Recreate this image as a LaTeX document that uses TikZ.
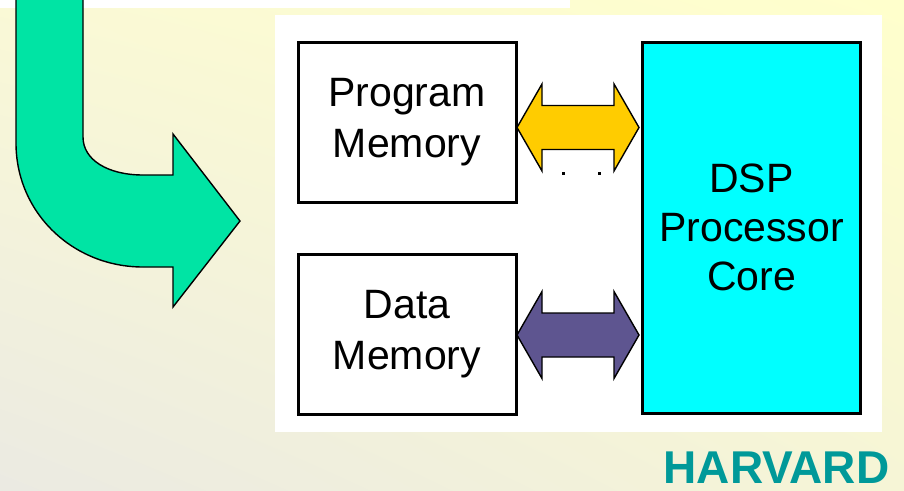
\documentclass[tikz,border=0pt]{standalone}
\usepackage{fontspec}
\usetikzlibrary{shadings}
\setmainfont{Liberation Sans}
\definecolor{bgtr}{HTML}{FFFFCC}
\definecolor{bgtl}{HTML}{FAF9D6}
\definecolor{bgbl}{HTML}{EBEAE2}
\definecolor{bgbr}{HTML}{F6F5D6}
\definecolor{bentgreen}{HTML}{00E4A4}
\definecolor{busgold}{HTML}{FFCC00}
\definecolor{buspurple}{HTML}{5E5590}
\definecolor{corecyan}{HTML}{00FFFF}
\definecolor{titleteal}{HTML}{009999}
\tikzset{
  membox/.style={draw=black, line width=3pt, fill=white, minimum width=218pt,
    minimum height=160pt, align=center, inner sep=0pt,
    font=\fontsize{41}{51}\selectfont},
  corebox/.style={membox, fill=corecyan, minimum height=371pt,
    font=\fontsize{41}{49}\selectfont},
  busarrow/.pic={
    \draw[line width=1.4pt, line join=miter, fill=#1]
      (-61,0) -- (-36,43.5) -- (-36,22) -- (36,22) -- (36,43.5) -- (61,0)
      -- (36,-43.5) -- (36,-22) -- (-36,-22) -- (-36,-43.5) -- cycle;
  }
}
\begin{document}
\begin{tikzpicture}[x=1pt, y=-1pt]
  \useasboundingbox (0,0) rectangle (904,490);
  \clip (0,0) rectangle (904,490);
  % slide background
  \shade[upper left=bgtl, upper right=bgtr, lower left=bgbl, lower right=bgbr]
    (0,0) rectangle (904,490);
  \fill[white] (0,0) rectangle (570,8);
  % white panel behind the block diagram
  \fill[white] (275,15) rectangle (882,432);
  % bent arrow
  \draw[line width=1.4pt, line join=miter, fill=bentgreen]
    (16,-5) -- (16,143) .. controls (16,213) and (73,267) .. (143,267)
    -- (173,267) -- (173,307) -- (240,221) -- (173,134) -- (173,175)
    -- (143,175) .. controls (108,175) and (83,160) .. (83,137) -- (83,-5);
  % memories and core
  \node[membox] (pm) at (407,122) {Program\\Memory};
  \node[membox] (dm) at (407,334) {Data\\Memory};
  \node[corebox] (core) at (751.5,227.5) {DSP\\Processor\\Core};
  % bus dots
  \fill (562,171.5) rectangle (565,174.5);
  \fill (598,171.5) rectangle (601,174.5);
  % buses
  \pic at (578,127.5) {busarrow=busgold};
  \pic at (578,335) {busarrow=buspurple};
  % title
  \node[font=\bfseries\fontsize{46}{46}\selectfont, text=titleteal, inner sep=0pt]
    (title) at (776.5,468) {HARVARD};
\end{tikzpicture}
\end{document}
